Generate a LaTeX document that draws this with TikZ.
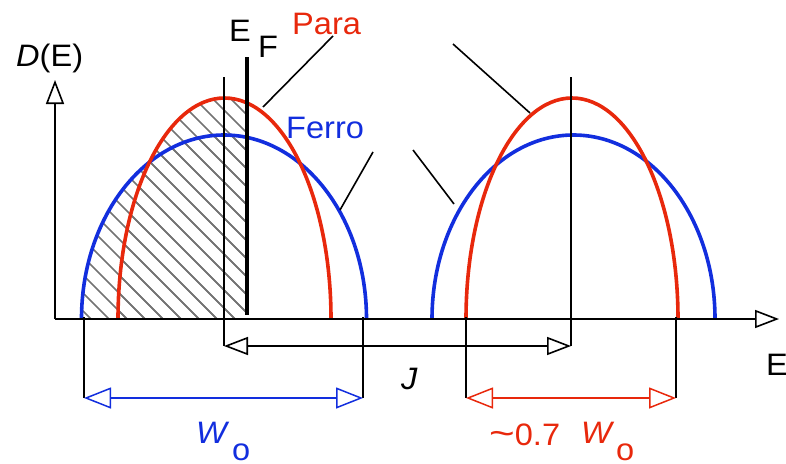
\documentclass[tikz,border=0pt]{standalone}
\usepackage{fontspec}
\usepackage{graphicx}
\setmainfont{Liberation Sans}[FakeStretch=1.05]
\usetikzlibrary{arrows.meta}
\definecolor{cred}{RGB}{232,40,12}
\definecolor{cblue}{RGB}{18,46,222}
\begin{document}
\begin{tikzpicture}[x=1pt,y=-1pt,
  lbl/.style={inner sep=0pt, anchor=base west, font=\fontsize{31}{37}\selectfont},
  curve/.style={line width=3.6pt},
  fine/.style={line width=1.6pt, black},
  hatchline/.style={line width=1.6pt, black!55},
  tipo/.style={-{Triangle[open,length=24pt,width=18pt]}},
  dbl/.style={{Triangle[open,length=24pt,width=18pt]}-{Triangle[open,length=24pt,width=18pt]}},
  dblw/.style={{Triangle[open,length=27pt,width=21pt]}-{Triangle[open,length=27pt,width=21pt]}}]
\useasboundingbox (0,0) rectangle (786,463);

% hatched area (occupied states)
\begin{scope}
  \clip (81.5,319) arc[start angle=-180, end angle=0, x radius=142.5, y radius=184] -- cycle;
  \clip (0,0) rectangle (247,319);
  \foreach \c in {-246,-228,...,170} \draw[hatchline] (\c,0) -- ({\c+400},400);
\end{scope}
\begin{scope}
  \clip (118,319) arc[start angle=-180, end angle=0, x radius=106.5, y radius=221] -- cycle;
  \clip (0,0) rectangle (247,319);
  \foreach \c in {-246,-228,...,170} \draw[hatchline] (\c,0) -- ({\c+400},400);
\end{scope}

% coordinates
\coordinate (o) at (55,319);
\coordinate (ytip) at (55,80);
\coordinate (xtip) at (779,319);
\coordinate (cL) at (224,77);
\coordinate (cLb) at (224,346);
\coordinate (cR) at (571,77);
\coordinate (cRb) at (571,346);
\coordinate (efT) at (247,57);
\coordinate (efB) at (247,315);
\coordinate (bL1) at (84,317);
\coordinate (bL2) at (84,398);
\coordinate (bR1) at (363,317);
\coordinate (bR2) at (363,398);
\coordinate (rL1) at (466,317);
\coordinate (rL2) at (466,398);
\coordinate (rR1) at (676,317);
\coordinate (rR2) at (676,398);

% DOS curves
\draw[curve,cblue] (81.5,319) arc[start angle=-180, end angle=0, x radius=142.5, y radius=184];
\draw[curve,cred] (118,319) arc[start angle=-180, end angle=0, x radius=106.5, y radius=221];
\draw[curve,cblue] (432,319) arc[start angle=-180, end angle=0, x radius=141.5, y radius=184];
\draw[curve,cred] (466,319) arc[start angle=-180, end angle=0, x radius=106, y radius=221];

% axes
\draw[fine,tipo] (o) -- (ytip);
\draw[fine,tipo] (o) -- (xtip);

% centre lines and J
\draw[fine] (cL) -- (cLb);
\draw[fine] (cR) -- (cRb);
\draw[fine,dbl] (cLb) -- (cRb);

% Fermi level
\draw[line width=4pt] (efT) -- (efB);

% widths
\draw[fine] (bL1) -- (bL2);
\draw[fine] (bR1) -- (bR2);
\draw[line width=1.5pt,cblue,dblw] (bL2) -- (bR2);
\draw[fine] (rL1) -- (rL2);
\draw[fine] (rR1) -- (rR2);
\draw[line width=1.5pt,cred,dblw] (rL2) -- (rR2);

% labels
\node[lbl] (DE) at (16,66) {\itshape D\upshape(E)};
\node[lbl] (EF1) at (229,41) {E};
\node[lbl] (EF2) at (258,57) {F};
\node[lbl,cred] (para) at (292,34) {Para};
\node[lbl,cblue] (ferro) at (286,138) {Ferro};
\node[lbl] (J) at (401,389) {\itshape J};
\node[lbl] (Eax) at (766,375) {E};
\node[lbl,cblue] (W1) at (196,443) {\itshape W};
\node[lbl,cblue] (o1) at (232,460) {o};
\node[lbl,cred] (W2a) at (489,445) {\scalebox{1.35}[1.15]{\textasciitilde}0.7};
\node[lbl,cred] (W2) at (581,443) {\itshape W};
\node[lbl,cred] (o2) at (616,460) {o};

% leader lines
\coordinate (p1a) at (333,36);  \coordinate (p1b) at (263,107);
\coordinate (p2a) at (453,44);  \coordinate (p2b) at (530,113);
\coordinate (f1a) at (373,152); \coordinate (f1b) at (340,210);
\coordinate (f2a) at (413,150); \coordinate (f2b) at (454,204);
\draw[fine] (p1a) -- (p1b);
\draw[fine] (p2a) -- (p2b);
\draw[fine] (f1a) -- (f1b);
\draw[fine] (f2a) -- (f2b);
\end{tikzpicture}
\end{document}
